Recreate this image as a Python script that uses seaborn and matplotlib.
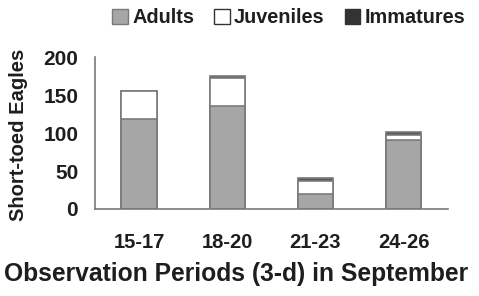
import matplotlib
matplotlib.use("Agg")
import matplotlib.pyplot as plt
import seaborn as sns
import pandas as pd
import numpy as np
from matplotlib.patches import Patch

periods = ["15-17", "18-20", "21-23", "24-26"]
adults = [119, 136, 20, 91]
juveniles = [37, 37, 17, 6]
immatures = [0, 2, 4, 4]

df = pd.DataFrame({"period": periods, "adults": adults, "juveniles": juveniles, "immatures": immatures})
df["adult_juv"] = df["adults"] + df["juveniles"]
df["total"] = df["adult_juv"] + df["immatures"]

sns.set_style("white")
plt.rcParams["font.family"] = ["Liberation Sans", "DejaVu Sans"]
plt.rcParams["font.weight"] = "bold"

C_AD, C_JUV, C_IMM = "#a6a6a6", "white", "#5a5a5a"
EDGE = "#7a7a7a"
TXT = "#1e1e1e"

fig = plt.figure(figsize=(4.79, 2.96), dpi=100)
ax = fig.add_axes([0.198, 0.294, 0.737, 0.513])

# stacked look: draw cumulative totals back to front
for col, c in [("total", C_IMM), ("adult_juv", C_JUV), ("adults", C_AD)]:
    sns.barplot(data=df, x="period", y=col, color=c, width=0.4, edgecolor=EDGE, linewidth=1.2, saturation=1, ax=ax)

ax.set_ylim(0, 200)
ax.set_xlim(-0.5, 3.5)
ax.set_yticks([0, 50, 100, 150, 200])
ax.set_xticks(np.arange(-0.5, 4, 1), minor=True)
ax.tick_params(axis="x", which="major", length=0, pad=17, labelsize=14.5, labelcolor=TXT)
ax.tick_params(axis="x", which="minor", length=3, color=EDGE, direction="out")
ax.tick_params(axis="y", length=5, color=EDGE, direction="out", labelsize=15, pad=7, labelcolor=TXT)
for s in ["top", "right"]:
    ax.spines[s].set_visible(False)
for s in ["left", "bottom"]:
    ax.spines[s].set_color(EDGE)
    ax.spines[s].set_linewidth(1.2)

ax.set_ylabel("Short-toed Eagles", fontsize=14.5, fontweight="bold", color=TXT)
ax.yaxis.set_label_coords(-0.19, 0.49)
ax.set_xlabel("Observation Periods (3-d) in September", fontsize=17.7, fontweight="bold", color=TXT)
ax.xaxis.set_label_coords(0.40, -0.35)

handles = [Patch(facecolor=C_AD, edgecolor=EDGE, label="Adults"),
           Patch(facecolor=C_JUV, edgecolor="#333333", label="Juveniles"),
           Patch(facecolor="#333333", edgecolor="#333333", label="Immatures")]
leg = fig.legend(handles=handles, loc="center", bbox_to_anchor=(0.603, 0.94), ncol=3, frameon=False,
                 handlelength=0.8, handleheight=0.8, handletextpad=0.2, columnspacing=1.0,
                 prop={"weight": "bold", "size": 14.3})
for t in leg.get_texts():
    t.set_color(TXT)

fig.savefig("out.png", dpi=100)
